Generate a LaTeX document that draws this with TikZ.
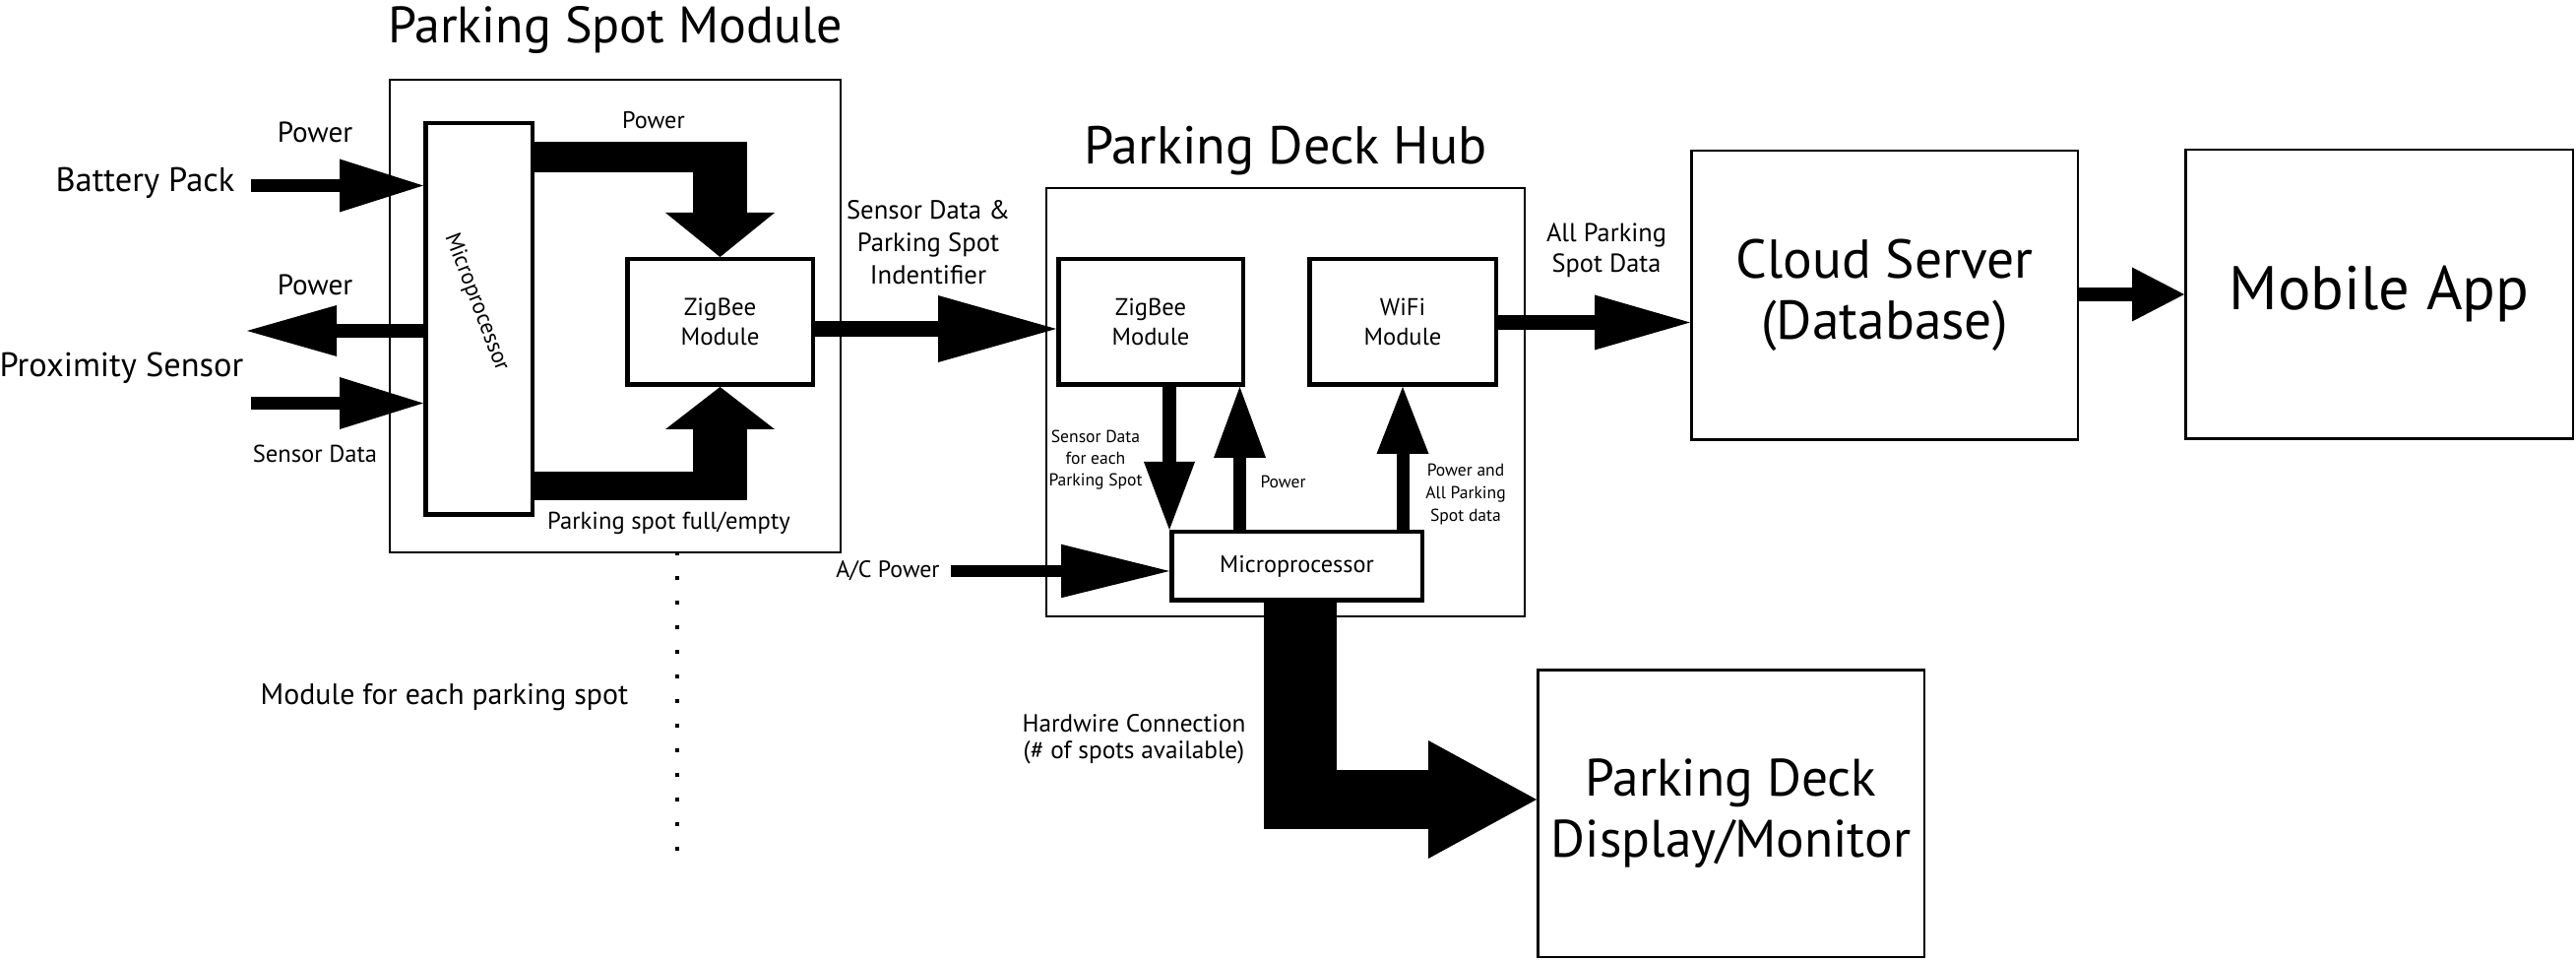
\documentclass[tikz,border=0pt]{standalone}
\usepackage{fontspec}
\setmainfont{PT Sans}
\usetikzlibrary{arrows.meta}
\newcommand{\fsz}[2]{\fontsize{#1}{#2}\selectfont}
\tikzset{
  box/.style={draw, line width=0.45mm, inner sep=0pt, align=center},
  frame/.style={draw, line width=0.2mm, inner sep=0pt},
  bigbox/.style={draw, line width=0.25mm, inner sep=0pt, align=center},
  lbl/.style={inner sep=0pt, align=center},
  fat/.style n args={3}{line width=#1, -{Triangle[length=#3, width=#2, line width=0pt]}},
}
\begin{document}
\begin{tikzpicture}[x=0.1mm, y=-0.1mm]
\useasboundingbox (0,0) rectangle (2617,976);

% parking spot module
\node[lbl, anchor=base, font=\fsz{14.8}{16}] (psmtitle) at (625,44) {Parking Spot Module};
\node[frame, minimum width=45.8mm, minimum height=48mm] (psm) at (625,321) {};
\node[box, minimum width=10.85mm, minimum height=39.75mm] (psmicro) at (486.5,324) {};
\node[lbl, rotate=-69, font=\fsz{6.5}{8}] (psmicrotxt) at (484,307) {Microprocessor};
\node[box, minimum width=18.85mm, minimum height=12.75mm, font=\fsz{7.1}{8.5}] (pszig) at (731.5,327) {ZigBee\\Module};

% inputs on the left
\node[lbl, anchor=base, font=\fsz{9.8}{11}] (batt) at (147.5,195) {Battery Pack};
\node[lbl, anchor=base, font=\fsz{9.8}{11}] (prox) at (123.5,383) {Proximity Sensor};
\node[lbl, anchor=base, font=\fsz{8.3}{10}] (pwrin) at (320,145) {Power};
\node[lbl, anchor=base, font=\fsz{8.3}{10}] (pwrout) at (320,300) {Power};
\node[lbl, anchor=base, font=\fsz{7}{8}] (sensdata) at (320,470) {Sensor Data};
\coordinate (battin) at (255,188.5);
\coordinate (pwrend) at (251,336);
\coordinate (sensin) at (255,409.5);
\draw[fat={1.3mm}{5.4mm}{8.5mm}] (battin) -- (psmicro.west |- battin);
\draw[fat={1.4mm}{5.2mm}{9.1mm}] (psmicro.west |- pwrend) -- (pwrend);
\draw[fat={1.3mm}{5.3mm}{8.5mm}] (sensin) -- (psmicro.west |- sensin);

% micro to zigbee
\node[lbl, anchor=base, font=\fsz{6.9}{8}] (pwrzig) at (664,131) {Power};
\node[lbl, anchor=base, font=\fsz{7}{8}] (fullempty) at (679.5,538) {Parking spot full/empty};
\draw[line width=3.1mm] (psmicro.east |- 0,160) -- (759,160);
\draw[fat={5.5mm}{11.1mm}{4.5mm}] (pszig.north |- 0,145) -- (pszig.north);
\draw[line width=2.9mm] (psmicro.east |- 0,494) -- (759,494);
\draw[fat={5.5mm}{11.1mm}{4.3mm}] (pszig.south |- 0,508) -- (pszig.south);

% dots below the module
\node[lbl, anchor=base, font=\fsz{8.5}{10}] (eachspot) at (451.5,716) {Module for each parking spot};
\foreach \y in {560,585,...,860}
    \fill (686,\y) rectangle ++(4,4);

% parking deck hub
\node[lbl, anchor=base, font=\fsz{15.4}{17}] (hubtitle) at (1306,167) {Parking Deck Hub};
\node[frame, minimum width=48.6mm, minimum height=43.5mm] (hub) at (1306,408.5) {};
\node[box, minimum width=18.75mm, minimum height=12.75mm, font=\fsz{7}{8.5}] (hubzig) at (1169,327) {ZigBee\\Module};
\node[box, minimum width=18.95mm, minimum height=12.75mm, font=\fsz{7}{8.3}] (hubwifi) at (1425,327) {WiFi\\Module};
\node[box, minimum width=25.45mm, minimum height=6.95mm, font=\fsz{6.9}{8}] (hubmicro) at (1317.5,575) {Microprocessor};

\node[lbl, font=\fsz{7.6}{9.4}] (spotid) at (943,246) {Sensor Data \&\\Parking Spot\\Indentifier};
\draw[fat={1.65mm}{6.8mm}{12mm}] (pszig.east |- 0,334) -- (hubzig.west |- 0,334);

\node[lbl, font=\fsz{5}{6.3}] (eachdata) at (1113,467) {Sensor Data\\for each\\Parking Spot};
\node[lbl, anchor=base, font=\fsz{5}{6.3}] (pwrhub) at (1303.5,495.5) {Power};
\node[lbl, font=\fsz{5}{6.5}] (pwrall) at (1489,502) {Power and\\All Parking\\Spot data};
\draw[fat={1.4mm}{5.2mm}{6.9mm}] (hubzig.south -| hubmicro.north west) -- (hubmicro.north west);
\draw[fat={1.3mm}{5.3mm}{7.2mm}] (hubmicro.north -| 1259.5,0) -- (hubzig.south -| 1259.5,0);
\draw[fat={1.3mm}{5.3mm}{6.8mm}] (hubmicro.north -| hubwifi.south) -- (hubwifi.south);

\node[lbl, anchor=base, font=\fsz{6.8}{8}] (acpwr) at (902,587) {A/C Power};
\coordinate (acin) at (966,580);
\draw[fat={1.25mm}{5.45mm}{11mm}] (acin) -- (hubmicro.west |- acin);

% cloud and app
\node[bigbox, minimum width=39.25mm, minimum height=29.35mm, font=\fsz{15.8}{17.6}] (cloud) at (1914.5,300) {Cloud Server\\(Database)};
\node[bigbox, minimum width=39.35mm, minimum height=29.35mm, font=\fsz{17.8}{20}] (mobile) at (2417,299) {Mobile App};
\node[lbl, font=\fsz{7.5}{8.8}] (alldata) at (1632,254) {All Parking\\Spot Data};
\draw[fat={1.5mm}{5.6mm}{9.7mm}] (hubwifi.east |- 0,327.5) -- (cloud.west |- 0,327.5);
\draw[fat={1.4mm}{5.5mm}{5.3mm}] (cloud.east |- 0,299) -- (mobile.west |- 0,299);

% display
\node[bigbox, minimum width=39.25mm, minimum height=29.15mm, font=\fsz{15.2}{17.4}] (display) at (1758.5,826) {Parking Deck\\Display/Monitor};
\node[lbl, font=\fsz{7.2}{7.7}] (hardwire) at (1152,751) {Hardwire Connection\\(\# of spots available)};
\draw[line width=7.4mm] (hubmicro.south -| 1321,0) -- (1321,842);
\draw[fat={6mm}{12mm}{11mm}] (1284,812) -- (display.west |- 0,812);

\end{tikzpicture}
\end{document}
